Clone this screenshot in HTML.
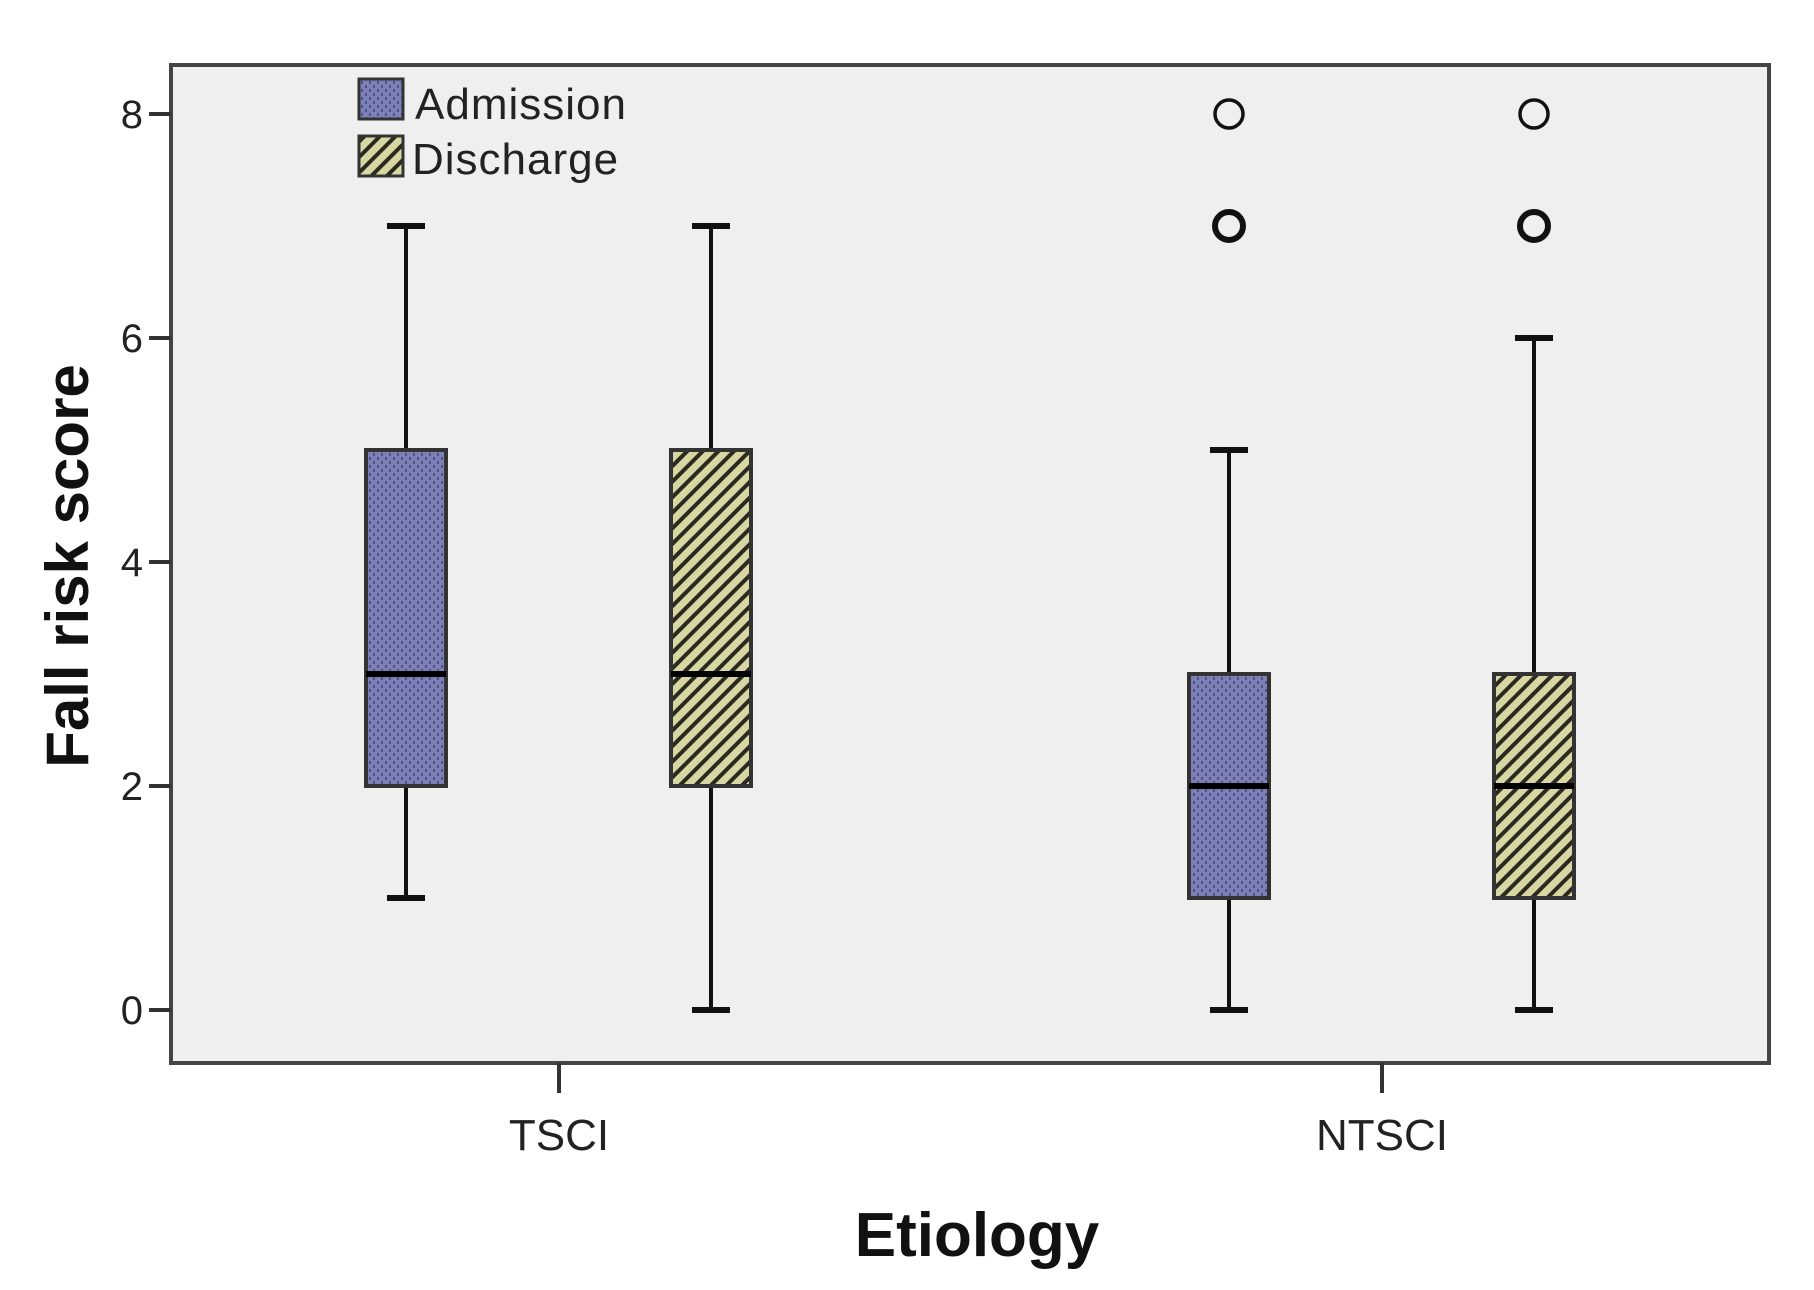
<!DOCTYPE html>
<html><head><meta charset="utf-8"><style>
html,body{margin:0;padding:0;background:#fff;}
svg{display:block;font-family:"Liberation Sans",Arial,sans-serif;}
</style></head><body>
<svg id="chart" width="1814" height="1290" viewBox="0 0 1814 1290" xmlns="http://www.w3.org/2000/svg">
<defs>
<pattern id="dots" width="8" height="8" patternUnits="userSpaceOnUse">
<rect width="8" height="8" fill="#7e80b8"/>
<rect x="1" y="1" width="2" height="3" fill="#4f5288"/>
<rect x="5" y="5" width="2" height="3" fill="#4f5288"/>
</pattern>
<pattern id="stripes" width="11" height="11" patternUnits="userSpaceOnUse" patternTransform="rotate(45)">
<rect width="11" height="11" fill="#d8d6a2"/>
<rect width="4" height="11" fill="#2a2a1e"/>
</pattern>
</defs>
<rect x="171" y="65" width="1598" height="998" fill="#efefef" stroke="#444" stroke-width="4"/>
<g id="yaxis"></g>
<g id="xaxis"></g>
<g id="boxes"></g>
<text transform="translate(88,566) rotate(-90)" text-anchor="middle" font-size="60" font-weight="bold" fill="#111">Fall risk score</text>
<text x="977" y="1256" text-anchor="middle" font-size="62" font-weight="bold" fill="#111">Etiology</text>
<g>
<rect x="359" y="79" width="44" height="40" fill="url(#dots)" stroke="#333" stroke-width="3"/>
<text x="415" y="119" font-size="44" letter-spacing="1" fill="#222">Admission</text>
<rect x="359" y="136" width="44" height="40" fill="url(#stripes)" stroke="#333" stroke-width="3"/>
<text x="412" y="174" font-size="44" letter-spacing="1" fill="#222">Discharge</text>
</g>
</svg>
<script>
const categories = ["TSCI", "NTSCI"];
const seriesNames = ["Admission", "Discharge"];
const admissionStats = [[1, 2, 3, 5, 7], [0, 1, 2, 3, 5]];
const dischargeStats = [[0, 2, 3, 5, 7], [0, 1, 2, 3, 6]];
const admissionOutliers = [[], [7, 8]];
const dischargeOutliers = [[], [7, 8]];
const yTicks = [0, 2, 4, 6, 8];

const NS = "http://www.w3.org/2000/svg";
const plotL = 171, plotR = 1769, plotT = 65, plotB = 1063;
function yScale(v){ return 1010 - v * 112; }
const groupCenters = [559, 1382];
const offsets = [-153, 152];
const boxW = 80, capW = 38;
function mk(tag, attrs, parent){ const e = document.createElementNS(NS, tag); for (const k in attrs) e.setAttribute(k, attrs[k]); parent.appendChild(e); return e; }

const ya = document.getElementById('yaxis');
yTicks.forEach(t => {
  const y = yScale(t);
  const l = mk('line', {x1: plotL - 22, x2: plotL, y1: y, y2: y, stroke: '#333', 'stroke-width': 4}, ya);
  
  
  const tx = mk('text', {x: plotL - 28, y: y + 14, 'text-anchor': 'end', 'font-size': 40, fill: '#222'}, ya);
  tx.textContent = t;
  
  
});
const xa = document.getElementById('xaxis');
categories.forEach((c, i) => {
  const x = groupCenters[i];
  const l = mk('line', {x1: x, x2: x, y1: plotB, y2: plotB + 30, stroke: '#333', 'stroke-width': 4}, xa);
  
  
  const tx = mk('text', {x: x, y: 1150, 'text-anchor': 'middle', 'font-size': 44, fill: '#222'}, xa);
  tx.textContent = c;
  
  
});

const bg = document.getElementById('boxes');
const allStats = [admissionStats, dischargeStats];
const allOut = [admissionOutliers, dischargeOutliers];
const fills = ['url(#dots)', 'url(#stripes)'];
categories.forEach((c, gi) => {
  allStats.forEach((stats, si) => {
    const s = stats[gi];
    const cx = groupCenters[gi] + offsets[si];
    const g = mk('g', {}, bg);
    
    
    mk('line', {x1: cx, x2: cx, y1: yScale(s[0]), y2: yScale(s[4]), stroke: '#111', 'stroke-width': 4}, g);
    mk('line', {x1: cx - capW/2, x2: cx + capW/2, y1: yScale(s[0]), y2: yScale(s[0]), stroke: '#111', 'stroke-width': 6}, g);
    mk('line', {x1: cx - capW/2, x2: cx + capW/2, y1: yScale(s[4]), y2: yScale(s[4]), stroke: '#111', 'stroke-width': 6}, g);
    mk('rect', {x: cx - boxW/2, y: yScale(s[3]), width: boxW, height: yScale(s[1]) - yScale(s[3]), fill: fills[si], stroke: '#333', 'stroke-width': 4}, g);
    mk('line', {x1: cx - boxW/2, x2: cx + boxW/2, y1: yScale(s[2]), y2: yScale(s[2]), stroke: '#000', 'stroke-width': 6}, g);
    allOut[si][gi].forEach(v => {
      const o = mk('circle', {cx: cx, cy: yScale(v), r: 14, fill: 'none', stroke: '#111', 'stroke-width': v === 7 ? 6 : 3.5}, g);
      
      
    });
  });
});
</script>
</body></html>
